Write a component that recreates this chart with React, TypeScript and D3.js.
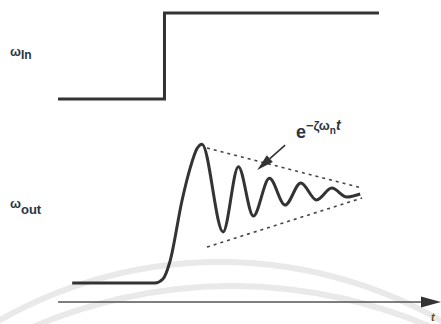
import React from 'react';
import * as d3 from 'd3';

// input step (time, level)
const inputT = [0, 27.8, 27.8, 83.8];
const inputV = [0, 0, 1, 1];

// output response (time, level; 1 = final value)
const outT = [3.7, 25.3, 27.4, 29.2, 32.4, 34.5, 36.3, 37.6, 43.1, 47.1, 51.0, 55.2, 59.3, 63.4, 67.5, 71.5, 75.4, 78.9];
const outV = [0, 0, 0.045, 0.236, 0.93, 1.29, 1.51, 1.56, 0.573, 1.307, 0.753, 1.176, 0.876, 1.124, 0.933, 1.067, 0.966, 1.0];

// decay envelope e^{-ζωn t}
const envT = [38.9, 79.4];
const envUpper = [1.517, 1.067];
const envLower = [0.404, 0.955];

// arrow pointing at envelope (tail, tip)
const arrowT = [59.3, 52.0];
const arrowV = [1.55, 1.27];

const W = 441;
const H = 324;

const App = () => {
  const x = d3.scaleLinear().domain([0, 100]).range([58, 441]);
  const yIn = d3.scaleLinear().domain([0, 1]).range([99, 13]);
  const yOut = d3.scaleLinear().domain([0, 1]).range([283, 194]);
  const axisY = 302;

  const stepLine = d3.line<number>()
    .x((d, i) => x(inputT[i]))
    .y(d => yIn(d));

  const outLine = d3.line<number>()
    .x((d, i) => x(outT[i]))
    .y(d => yOut(d))
    .curve(d3.curveMonotoneX);

  const envLine = (vals: number[]) =>
    d3.line<number>().x((d, i) => x(envT[i])).y(d => yOut(d))(vals);

  // arrow geometry
  const ax0 = x(arrowT[0]), ay0 = yOut(arrowV[0]);
  const ax1 = x(arrowT[1]), ay1 = yOut(arrowV[1]);
  const ang = Math.atan2(ay1 - ay0, ax1 - ax0);
  const headLen = 17, headW = 4.5;
  const bx = ax1 - headLen * Math.cos(ang), by = ay1 - headLen * Math.sin(ang);
  const head = [
    [ax1, ay1],
    [bx + headW * Math.sin(ang), by - headW * Math.cos(ang)],
    [bx - headW * Math.sin(ang), by + headW * Math.cos(ang)],
  ].map(p => p.join(',')).join(' ');

  // faint watermark arcs
  const arcOuter = d3.arc()({ innerRadius: 443, outerRadius: 449, startAngle: -0.6, endAngle: 0.6 }) as string;
  const arcInner = d3.arc()({ innerRadius: 501, outerRadius: 507, startAngle: -0.45, endAngle: 0.45 }) as string;

  const textFill = '#2b3644';
  const font = '"Liberation Sans", Arial, sans-serif';

  return (
    <svg width={W} height={H} style={{ position: 'absolute', left: 0, top: 0, background: '#fff' }}>
      <path d={arcOuter} transform="translate(220,708)" fill="#e9e9e9" />
      <path d={arcInner} transform="translate(232,790)" fill="#e9e9e9" />

      <path d={stepLine(inputV) as string} fill="none" stroke="#333" strokeWidth={3} strokeLinejoin="miter" />

      <path d={envLine(envUpper) as string} fill="none" stroke="#444" strokeWidth={1.6} strokeDasharray="3,4" />
      <path d={envLine(envLower) as string} fill="none" stroke="#444" strokeWidth={1.6} strokeDasharray="3,4" />

      <path d={outLine(outV) as string} fill="none" stroke="#333" strokeWidth={3} strokeLinejoin="round" />

      <line x1={ax0} y1={ay0} x2={bx} y2={by} stroke="#333" strokeWidth={1.6} />
      <polygon points={head} fill="#333" />

      <line x1={x(0)} y1={axisY} x2={W - 14} y2={axisY} stroke="#555" strokeWidth={1.5} />
      <polygon points={`${W},${axisY} ${W - 20},${axisY - 5.5} ${W - 20},${axisY + 5.5}`} fill="#333" />
      <text x={431} y={321} fontFamily={font} fontWeight="bold" fontStyle="italic" fontSize={11} fill="#6a4a20">t</text>

      <text x={10} y={56} fontFamily={font} fontWeight="bold" fill={textFill}>
        <tspan fontSize={13}>ω</tspan>
        <tspan fontSize={12} dy={3}>In</tspan>
      </text>
      <text x={10} y={208} fontFamily={font} fontWeight="bold" fill={textFill}>
        <tspan fontSize={13}>ω</tspan>
        <tspan fontSize={13} dy={6}>out</tspan>
      </text>

      <text x={296} y={138} fontFamily={font} fontWeight="bold" fill={textFill}>
        <tspan fontSize={18}>e</tspan>
        <tspan fontSize={13} dy={-8}>−ζω</tspan>
        <tspan fontSize={10} dy={4}>n</tspan>
        <tspan fontSize={14} fontStyle="italic" dy={-4}>t</tspan>
      </text>
    </svg>
  );
};

export default App;
